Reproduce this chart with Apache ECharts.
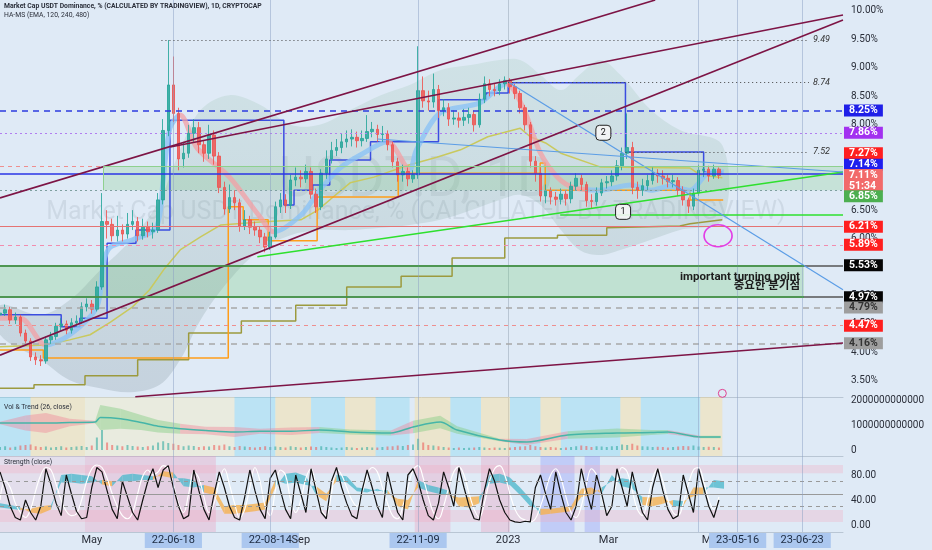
<!DOCTYPE html>
<html><head><meta charset="utf-8">
<script src="https://cdn.jsdelivr.net/npm/echarts@6/dist/echarts.min.js"></script>
<style>html,body{margin:0;padding:0;background:#dfeaf6}#c{width:932px;height:550px}</style>
</head><body><div id="c"></div>
<script>
// ---------- x positions are days relative to 2023-01-01 ----------
const t = d => d;

// ---------- DATA ----------
const candleDay0 = -299;   // 2022-03-08
const candleStep = 3;      // 3-day candles
const firstOpen = 4.66;
const closes = [
4.69,4.75,4.57,4.62,4.34,4.20,3.92,3.87,3.85,4.22,
4.28,4.46,4.50,4.39,4.52,4.55,4.80,4.85,4.76,5.15,
6.30,6.25,6.05,6.15,6.08,6.25,6.30,6.05,6.20,6.12,
6.15,6.68,7.90,8.70,8.20,7.40,7.50,7.85,7.95,7.65,
7.50,7.82,7.45,6.90,6.52,6.72,6.63,6.22,6.33,6.20,
6.15,6.03,5.85,6.03,6.56,6.68,6.58,7.03,7.08,7.05,
7.18,6.78,6.56,7.15,7.40,7.55,7.60,7.70,7.75,7.78,
7.72,7.76,7.88,7.92,7.83,7.84,7.65,7.35,7.12,7.18,
7.05,7.12,8.60,8.42,8.40,8.62,8.25,8.30,8.10,8.12,
8.08,8.13,8.18,8.00,8.45,8.72,8.62,8.60,8.72,8.78,
8.67,8.55,8.30,8.00,7.36,7.15,6.75,6.84,6.73,6.69,
6.78,6.70,6.92,7.06,6.95,6.67,6.65,6.80,6.98,7.00,
7.10,7.28,7.50,7.60,6.90,6.85,6.93,7.02,7.15,7.10,
7.06,7.00,7.02,6.85,6.68,6.57,6.80,7.20,7.22,7.10,
7.22,7.11];
const highs = [
4.78,4.84,4.80,4.70,4.66,4.40,4.25,4.00,3.95,4.28,
4.36,4.52,4.60,4.56,4.60,4.65,4.88,4.95,4.92,5.25,
6.80,6.50,6.35,6.40,6.25,6.45,6.50,6.38,6.35,6.30,
6.28,6.80,8.10,9.49,9.20,8.30,7.70,8.00,8.10,8.05,
7.72,8.00,7.90,7.52,7.00,6.95,6.85,6.70,6.50,6.40,
6.30,6.22,6.10,6.12,6.65,6.80,6.78,7.12,7.25,7.20,
7.30,7.25,6.88,7.22,7.55,7.70,7.75,7.85,7.90,7.92,
7.88,7.90,8.17,8.05,8.00,7.98,7.90,7.70,7.42,7.30,
7.25,7.20,9.38,8.85,8.60,8.90,8.70,8.45,8.38,8.25,
8.22,8.28,8.30,8.25,8.55,8.85,8.80,8.72,8.80,8.85,
8.82,8.72,8.60,8.35,8.05,7.45,7.25,6.95,6.90,6.82,
6.88,6.85,7.00,7.15,7.12,7.00,6.78,6.90,7.05,7.10,
7.20,7.38,7.60,8.20,7.70,7.00,7.05,7.12,7.25,7.22,
7.20,7.12,7.12,7.08,6.92,6.72,6.88,7.30,7.35,7.28,
7.30,7.25];
const lows = [
4.58,4.64,4.50,4.50,4.28,4.12,3.85,3.78,3.76,3.80,
4.15,4.22,4.38,4.32,4.33,4.45,4.50,4.72,4.68,4.72,
5.10,6.00,5.95,5.95,5.95,6.00,6.15,5.95,5.98,6.02,
6.00,6.10,6.60,7.80,8.05,7.20,7.25,7.42,7.70,7.50,
7.35,7.40,7.30,6.80,6.42,6.45,6.50,6.12,6.15,6.08,
6.05,5.92,5.76,5.80,6.00,6.45,6.45,6.52,6.92,6.90,
6.98,6.70,6.45,6.50,7.05,7.32,7.45,7.50,7.60,7.62,
7.60,7.62,7.70,7.78,7.70,7.70,7.55,7.25,7.00,7.00,
6.92,6.98,7.05,8.30,8.25,8.30,8.12,8.15,7.98,8.00,
7.95,7.98,8.02,7.88,7.95,8.38,8.50,8.50,8.52,8.62,
8.55,8.45,8.20,7.90,7.25,7.00,6.65,6.62,6.60,6.58,
6.60,6.58,6.62,6.85,6.85,6.56,6.52,6.58,6.75,6.88,
6.92,7.02,7.20,7.40,6.78,6.70,6.75,6.85,6.95,6.98,
6.95,6.90,6.90,6.75,6.58,6.45,6.50,6.75,7.08,7.00,
7.05,7.05];
// volume, in 10^12
const vol = [
0.12,0.15,0.10,0.13,0.18,0.20,0.22,0.15,0.12,0.14,
0.10,0.12,0.15,0.10,0.12,0.14,0.16,0.12,0.18,0.50,
0.80,0.30,0.20,0.18,0.15,0.20,0.16,0.14,0.12,0.15,
0.18,0.30,0.35,0.28,0.25,0.20,0.15,0.18,0.16,0.12,
0.15,0.14,0.20,0.18,0.22,0.15,0.12,0.16,0.14,0.12,
0.10,0.12,0.15,0.12,0.14,0.12,0.10,0.15,0.12,0.10,
0.12,0.14,0.12,0.15,0.12,0.10,0.08,0.10,0.12,0.10,
0.08,0.10,0.12,0.10,0.10,0.12,0.14,0.15,0.18,0.16,
0.20,0.22,0.45,0.30,0.20,0.18,0.15,0.12,0.10,0.08,
0.10,0.08,0.09,0.10,0.12,0.10,0.08,0.10,0.09,0.08,
0.10,0.12,0.14,0.15,0.20,0.15,0.12,0.10,0.12,0.10,
0.08,0.10,0.12,0.15,0.18,0.16,0.12,0.15,0.14,0.12,
0.15,0.16,0.22,0.20,0.25,0.18,0.15,0.14,0.12,0.13,
0.12,0.10,0.12,0.14,0.16,0.15,0.18,0.14,0.12,0.13,
0.12,0.10];
const strengthWhite = [
40,70,60,35,20,12,25,55,80,92,
88,65,40,22,15,18,40,70,90,96,
92,75,50,30,15,10,20,50,78,88,
80,85,95,90,65,35,20,50,85,75,
45,20,35,70,90,65,35,12,25,60,
92,70,30,15,55,88,80,40,20,40,
75,90,60,25,15,50,90,80,60,40,
30,50,80,92,85,60,35,15,10,30,
60,88,95,75,45,20,10,30,60,85,
93,80,50,25,12,35,70,90,95,80,
50,25,12,8,5,10,30,55,80,90,
75,45,20,12,30,65,90,80,45,20,
35,70,92,85,55,25,15,40,75,90,
70,40,20,15,35,65,88,92,70,40,
25,45];
const strengthBlack = [
85,60,30,12,8,40,20,8,30,90,
65,35,15,80,50,22,10,12,60,92,
85,55,25,10,70,45,20,8,40,70,
90,60,88,95,60,30,10,15,88,55,
25,8,50,85,60,30,12,8,45,88,
55,25,10,75,88,55,25,10,80,50,
20,90,55,20,10,70,92,60,35,15,
10,55,88,60,30,12,85,50,20,8,
80,90,70,40,15,8,35,85,60,30,
92,60,30,10,8,55,90,70,40,20,
8,5,4,6,5,60,80,50,25,85,
50,20,8,30,90,55,25,80,50,15,
30,90,60,30,85,50,20,8,60,90,
55,25,10,15,80,50,20,90,60,30,
12,40];
const bandDay0 = -299, bandStep = 6;
const bandFast = [35,32,28,20,18,25,80,82,80,78, 65,62,80,82,80,78,78,75,75,72, 52,48,18,18,20,22,25,60,82,84, 78,48,38,80,78,60,58,54,56,30, 25,72,64,60,55,30,28,35,80,82, 76,60,42,16,18,20,22,45,48,60, 70,75,72,32,30,34,40,38,46,50, 72,70];
const bandSlow = [28,26,24,26,30,32,68,68,66,68, 72,70,70,70,72,72,86,84,62,60, 64,60,30,32,32,34,36,72,66,68, 64,62,50,70,68,54,52,58,50,42, 40,60,54,50,48,44,45,46,66,68, 64,48,30,26,26,28,30,58,60,50, 80,62,58,45,44,46,30,30,60,60, 60,58];
// Vol & Trend line, in 10^12
const trendDays = [-299,-284,-272,-258,-243,-240,-228,-216,-206,-193,-178,-161,-146,-128,-111,-93,-69,-56,-40,-30,-5,11,35,64,84,94,113,125];
const trendVals = [1.08,1.08,1.08,1.10,1.12,1.30,1.25,1.10,0.95,0.85,0.78,0.72,0.75,0.75,0.80,0.72,0.68,0.92,1.12,0.80,0.40,0.32,0.60,0.68,0.70,0.72,0.52,0.52];
const trendHalf = [0.05,0.30,0.40,0.15,0.05,0.50,0.40,0.30,0.25,0.20,0.15,0.20,0.10,0.15,0.12,0.10,0.10,0.25,0.25,0.15,0.05,0.12,0.15,0.18,0.10,0.08,0.05,0.05];
const trendMood = ['p','p','p','p','g','g','g','g','g','p','p','p','p','p','g','g','p','g','g','g','p','p','g','g','g','p','g','g'];
// HA-MS cloud
const cloudDays = [-299,-275,-258,-240,-222,-205,-193,-181,-164,-146,-128,-111,-93,-75,-58,-40,-22,-5,7,19,31,42,54,66,84,101,126];
const cloudUp  = [4.83,4.66,4.92,5.45,5.98,6.68,7.56,8.26,8.52,8.35,8.00,8.00,8.26,8.52,8.70,8.96,9.05,9.14,9.14,8.88,8.61,8.88,9.14,8.88,8.26,7.91,7.64];
const cloudLow = [4.31,3.87,3.51,3.37,3.30,3.43,3.87,4.57,5.27,5.80,6.06,6.15,6.15,6.19,6.24,6.33,6.50,6.68,6.77,6.59,6.15,5.80,5.71,5.80,5.98,6.15,6.33];
// HA-MS EMA
const emaDays = [-299,-287,-272,-258,-242,-238,-234,-221,-207,-203,-199,-193,-183,-164,-146,-138,-122,-111,-99,-87,-71,-58,-54,-40,-17,-1,4,11,19,29,39,54,72,84,95,107,119,127];
const emaVals = [4.60,4.60,4.13,4.31,4.80,5.59,5.85,5.98,6.20,7.03,7.94,8.17,7.59,7.08,6.38,6.12,6.41,6.85,7.24,7.47,7.70,7.21,7.56,8.21,8.38,8.72,8.58,8.14,7.50,7.08,6.89,6.85,6.94,6.85,6.92,6.85,7.17,7.17];
const emaTurns = [-272,-193,-138,-71,-58,-1,45];
// step lines [day, value]
const blueStep = [[-299,4.66],[-263,4.66],[-263,4.45],[-252,4.45],[-252,4.60],[-236,4.60],[-236,5.92],[-219,5.92],[-219,6.15],[-199,6.15],[-199,8.08],[-132,8.08],[-132,6.59],[-126,6.59],[-126,6.85],[-115,6.85],[-115,6.94],[-105,6.94],[-105,7.38],[-81,7.38],[-81,7.70],[-41,7.70],[-41,8.44],[-13,8.44],[-13,8.56],[0,8.56],[0,8.74],[69,8.74],[69,7.52],[115,7.52],[115,7.17],[126,7.17]];
const orangeStep = [[-299,4.04],[-273.5,4.04],[-273.5,3.90],[-164.7,3.90],[-164.7,6.56],[-155.9,6.56],[-155.9,6.33],[-141.2,6.33],[-141.2,5.96],[-112.4,5.96],[-112.4,6.73],[-64.7,6.73],[-64.7,7.15],[18.8,7.15],[18.8,7.33],[21.8,7.33],[21.8,6.85],[107,6.85],[107,6.68],[126.5,6.68]];
const oliveUp = [[-299,4.10],[-272,4.13],[-258,4.22],[-246,4.31],[-234,4.53],[-221,4.80],[-211,5.10],[-202,5.48],[-193,5.80],[-181,6.03],[-169,6.24],[-146,6.29],[-122,6.33],[-112,6.50],[-103,6.73],[-93,6.98],[-79,7.08],[-59,7.29],[-42,7.43],[-28,7.56],[-12,7.79],[7,7.94],[13,7.79],[22,7.68],[31,7.50],[54,7.26],[107,7.24],[113,7.12],[126,7.07]];
const oliveLow = [[-299,3.37],[-279,3.37],[-279,3.43],[-249,3.43],[-249,3.59],[-218,3.59],[-218,3.87],[-188,3.87],[-188,4.34],[-157,4.34],[-157,4.55],[-125,4.55],[-125,4.83],[-95,4.83],[-95,5.15],[-63,5.15],[-63,5.34],[-33,5.34],[-33,5.66],[-2,5.66],[-2,6.01],[29,6.01],[29,6.06],[58,6.06],[58,6.19],[101,6.22],[107,6.26],[126,6.33]];
// drawn lines [[day,value],[day,value]]
const channelLines = [[[-299,6.714],[86.5,10.193]], [[-198.8,7.61],[197,9.93]], [[-299,3.95],[197,9.84]], [[-219.4,3.22],[197,4.165]]];
const greenLines = [[[-147.6,5.68],[197,7.17]], [[30.6,6.42],[197,6.42]]];
const blueLines = [[[0,8.75],[197,5.10]], [[-77,7.75],[197,7.17]]];
const highMarks = [[-204,9.49],[0,8.74],[69,7.52]];
const highMarkEnd = 177;
const levelValues = [8.25,7.86,7.27,7.14,7.11,6.85,6.21,5.89,5.53,4.97,4.79,4.47,4.16];
const countdown = '51:34';
const upperZone = [[-238,7.27],[197,6.85]];
const lowerZone = [[-299,5.53],[174,4.97]];
const vLineDays = [-197,-140,-53,112,135,173];
const priceTicks = [3.5,4,4.5,5,5.5,6,6.5,7,7.5,8,8.5,9,9.5,10];
const volTicks = [0,1e12,2e12];
const strengthTicks = [0,40,80];
const xTickDays = [-245,-197,-140,-122,-53,0,59,120,135,173];
const xTickText = ['May','22-06-18','22-08-14','Sep','22-11-09','2023','Mar','May','23-05-16','23-06-23'];
const xTickBoxed = [0,1,1,0,1,0,0,0,1,1];
const labelOne = [67.6,6.47], labelTwo = [56,7.86];
const circleMark = [123.5,6.05], smallMark = [126,3.28];
const noteAt = [172,5.25];
const noteText = 'important turning point\n중요한 분기점';

// ---------- derived series data ----------
const candles = closes.map((c,i)=>[t(candleDay0+candleStep*i), i===0?firstOpen:closes[i-1], c, lows[i], highs[i]]);
const isUp = i => closes[i] >= (i===0?firstOpen:closes[i-1]);
const volData = vol.map((v,i)=>({value:[t(candleDay0+candleStep*i), v*1e12], itemStyle:{color: isUp(i)?'rgba(38,166,154,0.55)':'rgba(239,83,80,0.55)'}}));
const pair = a => a.map(p=>[t(p[0]),p[1]]);
const seg = (a,b) => [{coord:[t(a[0]),a[1]]},{coord:[t(b[0]),b[1]]}];

const PINK='rgba(243,160,165,0.75)', BLUE='rgba(140,195,245,0.8)';
const emaPieces = [];
for (let k=0;k<=emaTurns.length;k++){
  const p = {color: k%2===0?PINK:BLUE};
  if (k>0) p.gte = t(emaTurns[k-1]);
  if (k<emaTurns.length) p.lt = t(emaTurns[k]);
  emaPieces.push(p);
}

const FONT = 'Roboto';
const levelStyles = [
 {line:{color:'#2c3be0',type:[6,5],width:1.5}, bg:'#1f1fe8'},
 {line:{color:'#b27df0',type:[2,3],width:1}, bg:'#a231f0'},
 {line:{color:'#ee8f8f',type:[4,4],width:1}, bg:'#ff1f1f', dy:-13},
 {line:{color:'#2a35e6',type:'solid',width:1.5}, bg:'#1f1fee', dy:-9},
 {line:{color:'rgba(0,0,0,0)',width:0}, bg:'#f26a6a', dy:5, cd:true},
 {line:{color:'#7fa0a0',type:[2,3],width:1}, bg:'#4caf50', dy:6},
 {line:{color:'#e57373',type:'solid',width:1}, bg:'#ff1f1f'},
 {line:{color:'#f28cae',type:[4,4],width:1}, bg:'#ff1f1f'},
 {line:{color:'#555',type:'solid',width:1.5}, bg:'#050505'},
 {line:{color:'#555',type:'solid',width:1.5}, bg:'#050505'},
 {line:{color:'#a8a8a8',type:[6,5],width:1.5}, bg:'#9e9e9e', fg:'#333'},
 {line:{color:'#ee8f8f',type:[4,4],width:1}, bg:'#ff1f1f'},
 {line:{color:'#a8a8a8',type:[6,5],width:1.5}, bg:'#9e9e9e', fg:'#333'}
];
const levelLines = levelValues.map((v,k)=>{
  const s = levelStyles[k];
  return {yAxis:v, lineStyle:s.line, label:{show:true, position:'end', distance:1,
    formatter: s.cd ? v.toFixed(2)+'%\n'+countdown : v.toFixed(2)+'%',
    backgroundColor:s.bg, color:s.fg||'#fff', padding:[1,5,0,5], fontSize:10.5, fontWeight:'bold',
    lineHeight:11, offset:[0,s.dy||0], fontFamily:FONT, opacity:1}};
});
const vLines = (col) => vLineDays.map(d=>({xAxis:t(d), lineStyle:{color:col,width:1,type:'solid'}, label:{show:false}}));

const maroon = {color:'#7d1445', width:1.6, type:'solid'};
const overlayLines = [];
channelLines.forEach(l=>{const s=seg(l[0],l[1]); s[0].lineStyle=maroon; overlayLines.push(s);});
greenLines.forEach(l=>{const s=seg(l[0],l[1]); s[0].lineStyle={color:'#2ee02e',width:1.6,type:'solid'}; overlayLines.push(s);});
blueLines.forEach(l=>{const s=seg(l[0],l[1]); s[0].lineStyle={color:'#5b9de6',width:1.2,type:'solid'}; overlayLines.push(s);});
highMarks.forEach(h=>{
  const s = seg(h,[highMarkEnd,h[1]]);
  s[0].lineStyle = {color:'#444', width:1, type:[1,3]};
  s[0].label = {show:true, position:'end', distance:4, formatter:h[1].toFixed(2), fontStyle:'italic', fontSize:9, color:'#333', fontFamily:FONT};
  overlayLines.push(s);
});
{
  const add = (a,b,st) => { const s = seg(a,b); s[0].lineStyle = st; overlayLines.push(s); };
  const lg = {color:'#8fd08f',width:1,type:'solid'}, dg = {color:'#43a047',width:1.5,type:'solid'};
  add([upperZone[0][0],upperZone[0][1]],[upperZone[1][0],upperZone[0][1]],lg);
  add([upperZone[0][0],upperZone[1][1]],[upperZone[0][0],upperZone[0][1]],lg);
  add([lowerZone[0][0],lowerZone[0][1]],[lowerZone[1][0],lowerZone[0][1]],dg);
  add([lowerZone[0][0],lowerZone[1][1]],[lowerZone[1][0],lowerZone[1][1]],dg);
}

const volBands = [[-299,-281,'c'],[-281,-249,'y'],[-249,-161,'y2'],[-161,-137,'c'],[-137,-116,'y'],[-116,-96,'c'],[-96,-78,'y'],[-78,-58,'c'],[-55,-34,'y'],[-34,-16,'c'],[-16,1,'y'],[1,19,'c'],[19,31,'y'],[31,66,'c'],[66,78,'y'],[78,113,'c'],[113,126,'y']];
const strBands = [[-299,-249,'p1'],[-249,-172,'p'],[-55,-34,'p'],[-16,1,'p'],[19,39,'b'],[45,54,'b']];
const bandCol = {c:'rgba(120,215,240,0.35)', y:'rgba(255,222,140,0.38)', y2:'rgba(255,235,175,0.32)', p:'rgba(235,150,185,0.32)', p1:'rgba(240,180,200,0.22)', b:'rgba(130,140,250,0.32)'};

const xBase = {type:'value', min:-299, max:197, axisTick:{show:false}, splitLine:{show:false},
  axisLine:{show:true, onZero:false, lineStyle:{color:'#b9c6d4'}}, axisLabel:{show:false}};
const yBase = {type:'value', position:'right', axisTick:{show:false}, splitLine:{show:false},
  axisLine:{show:true, lineStyle:{color:'#b9c6d4'}}};
const axisFont = {color:'#2a2e39', fontSize:10, fontFamily:FONT, margin:8};

const option = {
  animation:false,
  backgroundColor:'#dfeaf6',
  textStyle:{fontFamily:FONT},
  grid:[
    {left:0, right:89, top:0, height:397, outerBoundsMode:'none'},
    {left:0, right:89, top:397, height:59, outerBoundsMode:'none'},
    {left:0, right:89, top:456, height:76, outerBoundsMode:'none'}
  ],
  xAxis:[
    {...xBase, gridIndex:0},
    {...xBase, gridIndex:1},
    {...xBase, gridIndex:2, axisLabel:{show:true, customValues:xTickDays, margin:1, showMinLabel:true, showMaxLabel:true,
      formatter:(val)=>{ const k = xTickDays.findIndex(d=>Math.abs(d-val)<0.5); if(k<0) return ''; return xTickBoxed[k]?'{b|'+xTickText[k]+'}':'{n|'+xTickText[k]+'}'; },
      rich:{ b:{backgroundColor:'#abc7ef', color:'#1b2a40', padding:[2,7,2,7], fontSize:11, fontFamily:FONT},
             n:{color:'#2a2e39', fontSize:11, fontFamily:FONT, padding:[2,0,2,0]} }}}
  ],
  yAxis:[
    {...yBase, gridIndex:0, min:3.216, max:10.193, axisLabel:{...axisFont, customValues:priceTicks, formatter:v=>v.toFixed(2)+'%'}},
    {...yBase, gridIndex:1, min:-0.24e12, max:2.12e12, axisLabel:{...axisFont, customValues:volTicks, formatter:v=>String(Math.round(v))}},
    {...yBase, gridIndex:2, min:-11.2, max:110.4, axisLabel:{...axisFont, customValues:strengthTicks, formatter:v=>v.toFixed(2)}}
  ],
  visualMap:[{type:'piecewise', show:false, dimension:0, seriesIndex:6, pieces:emaPieces}],
  graphic:[
    {type:'text', z:0, x:416, y:182, style:{text:'USDT.D, 1D', font:'56px Roboto', fill:'rgba(110,120,135,0.13)', textAlign:'center', textVerticalAlign:'middle'}},
    {type:'text', z:0, x:416, y:213, style:{text:'Market Cap USDT Dominance, % (CALCULATED BY TRADINGVIEW)', font:'25px Roboto', fill:'rgba(110,120,135,0.15)', textAlign:'center', textVerticalAlign:'middle'}},
    {type:'text', z:100, x:4, y:3, style:{text:'Market Cap USDT Dominance, % (CALCULATED BY TRADINGVIEW), 1D, CRYPTOCAP', font:'bold 6.8px Roboto', fill:'#2a2e39'}},
    {type:'text', z:100, x:4, y:12, style:{text:'HA-MS (EMA, 120, 240, 480)', font:'6.8px Roboto', fill:'#2a2e39'}},
    {type:'text', z:100, x:4, y:404, style:{text:'Vol & Trend (26, close)', font:'6.8px Roboto', fill:'#2a2e39'}},
    {type:'text', z:100, x:4, y:459, style:{text:'Strength (close)', font:'6.8px Roboto', fill:'#2a2e39'}}
  ],
  series:[
    {type:'custom', xAxisIndex:0, yAxisIndex:0, z:1, silent:true, data:[[0,6]],
      renderItem:(params,api)=>{
        const up = cloudDays.map((d,i)=>api.coord([t(d),cloudUp[i]]));
        const lo = cloudDays.map((d,i)=>api.coord([t(d),cloudLow[i]])).reverse();
        return {type:'polygon', shape:{points:up.concat(lo), smooth:0.35},
          style:{fill: new echarts.graphic.LinearGradient(0,0,0,1,[{offset:0,color:'rgba(130,185,150,0.17)'},{offset:1,color:'rgba(95,115,125,0.2)'}])}};
      }},
    {type:'line', xAxisIndex:0, yAxisIndex:0, z:2, data:[], silent:true,
      markArea:{silent:true, data:[
        [{coord:[t(upperZone[0][0]),upperZone[0][1]], itemStyle:{color:'rgba(110,200,110,0.22)'}},{coord:[t(upperZone[1][0]),upperZone[1][1]]}],
        [{coord:[t(lowerZone[0][0]),lowerZone[0][1]], itemStyle:{color:'rgba(110,200,120,0.28)'}},{coord:[t(lowerZone[1][0]),lowerZone[1][1]]}]
      ]},
      markLine:{silent:true, symbol:['none','none'], data: levelLines.concat(vLines('rgba(140,160,195,0.5)'))}},
    {type:'line', xAxisIndex:0, yAxisIndex:0, z:3, data:pair(oliveUp), showSymbol:false, lineStyle:{color:'#c9c95e', width:1.5}},
    {type:'line', xAxisIndex:0, yAxisIndex:0, z:3, data:pair(oliveLow), showSymbol:false, lineStyle:{color:'#9c9a3e', width:1.5}},
    {type:'line', xAxisIndex:0, yAxisIndex:0, z:3, data:pair(orangeStep), showSymbol:false, lineStyle:{color:'#ff9d1a', width:1.5}},
    {type:'line', xAxisIndex:0, yAxisIndex:0, z:3, data:pair(blueStep), showSymbol:false, lineStyle:{color:'#3b4de0', width:1.5}},
    {type:'line', xAxisIndex:0, yAxisIndex:0, z:3, data:pair(emaDays.map((d,i)=>[d,emaVals[i]])), showSymbol:false, smooth:0.3, lineStyle:{width:5}},
    {type:'candlestick', xAxisIndex:0, yAxisIndex:0, z:4, data:candles, barWidth:3,
      itemStyle:{color:'#26a69a', color0:'#ef5350', borderColor:'#26a69a', borderColor0:'#ef5350', borderWidth:1, opacity:0.85}},
    {type:'line', xAxisIndex:0, yAxisIndex:0, z:6, data:[], silent:true,
      markLine:{silent:true, symbol:['none','none'], label:{show:false}, data:overlayLines},
      markPoint:{silent:true, data:[
        {coord:[t(labelTwo[0]),labelTwo[1]], symbol:'roundRect', symbolSize:[15,15], itemStyle:{color:'rgba(245,245,245,0.9)', borderColor:'#222', borderWidth:1}, label:{show:true, position:'inside', formatter:'2', color:'#111', fontSize:9}},
        {coord:[t(labelOne[0]),labelOne[1]], symbol:'roundRect', symbolSize:[15,15], itemStyle:{color:'rgba(245,245,245,0.9)', borderColor:'#222', borderWidth:1}, label:{show:true, position:'inside', formatter:'1', color:'#111', fontSize:9}},
        {coord:[t(circleMark[0]),circleMark[1]], symbol:'circle', symbolSize:[28,22], itemStyle:{color:'rgba(0,0,0,0)', borderColor:'#e23ee6', borderWidth:1.5}, label:{show:false}},
        {coord:[t(smallMark[0]),smallMark[1]], symbol:'circle', symbolSize:8, itemStyle:{color:'rgba(0,0,0,0)', borderColor:'#e04090', borderWidth:1}, label:{show:false}},
        {coord:[t(noteAt[0]),noteAt[1]], symbol:'rect', symbolSize:1, itemStyle:{color:'rgba(0,0,0,0)'},
          label:{show:true, position:'left', distance:0, formatter:noteText, align:'right', fontSize:11.5, fontWeight:'bold', lineHeight:9, color:'#1d1d1d', fontFamily:'Roboto, Noto Sans CJK KR'}}
      ]}},
    {type:'line', xAxisIndex:1, yAxisIndex:1, z:1, data:[], silent:true,
      markArea:{silent:true, data: volBands.map(b=>[{xAxis:t(b[0]), itemStyle:{color:bandCol[b[2]]}},{xAxis:t(b[1])}])},
      markLine:{silent:true, symbol:['none','none'], data:vLines('rgba(140,160,195,0.5)')}},
    {type:'custom', xAxisIndex:1, yAxisIndex:1, z:2, silent:true,
      data: trendDays.slice(0,-1).map((d,j)=>[t(d), trendVals[j]*1e12, j]),
      renderItem:(params,api)=>{
        const j = api.value(2);
        const a = t(trendDays[j]), b = t(trendDays[j+1]);
        const pts = [api.coord([a,(trendVals[j]+trendHalf[j])*1e12]), api.coord([b,(trendVals[j+1]+trendHalf[j+1])*1e12]),
                     api.coord([b,(trendVals[j+1]-trendHalf[j+1])*1e12]), api.coord([a,(trendVals[j]-trendHalf[j])*1e12])];
        return {type:'polygon', shape:{points:pts}, style:{fill: trendMood[j]==='p'?'rgba(240,130,150,0.42)':'rgba(130,205,130,0.45)'}};
      }},
    {type:'line', xAxisIndex:1, yAxisIndex:1, z:3, data: trendDays.map((d,i)=>[t(d),trendVals[i]*1e12]), showSymbol:false, smooth:0.3, lineStyle:{color:'#45b5a8', width:1.5}},
    {type:'bar', xAxisIndex:1, yAxisIndex:1, z:3, data:volData, barWidth:2},
    {type:'line', xAxisIndex:2, yAxisIndex:2, z:1, data:[], silent:true,
      markArea:{silent:true, data: strBands.map(b=>[{xAxis:t(b[0]), itemStyle:{color:bandCol[b[2]]}},{xAxis:t(b[1])}]).concat([
        [{yAxis:83, itemStyle:{color:'rgba(245,170,190,0.3)'}},{yAxis:96}],
        [{yAxis:5, itemStyle:{color:'rgba(245,170,190,0.3)'}},{yAxis:24}]])},
      markLine:{silent:true, symbol:['none','none'], label:{show:false}, data:[
        {yAxis:70, lineStyle:{color:'#999', type:[4,4], width:1}},
        {yAxis:50, lineStyle:{color:'#999', type:'solid', width:1}},
        {yAxis:30, lineStyle:{color:'#999', type:[4,4], width:1}}
      ].concat(vLines('rgba(140,160,195,0.5)'))}},
    {type:'custom', xAxisIndex:2, yAxisIndex:2, z:2, silent:true,
      data: bandFast.slice(0,-1).map((v,j)=>[t(bandDay0+bandStep*j), v, j]),
      renderItem:(params,api)=>{
        const j = api.value(2);
        const a = t(bandDay0+bandStep*j), b = t(bandDay0+bandStep*(j+1));
        const pts = [api.coord([a,bandFast[j]]), api.coord([b,bandFast[j+1]]), api.coord([b,bandSlow[j+1]]), api.coord([a,bandSlow[j]])];
        const up = (bandFast[j]+bandFast[j+1]) >= (bandSlow[j]+bandSlow[j+1]);
        return {type:'polygon', shape:{points:pts}, style:{fill: up?'rgba(80,185,205,0.8)':'rgba(245,178,80,0.8)'}};
      }},
    {type:'line', xAxisIndex:2, yAxisIndex:2, z:3, data: strengthWhite.map((v,i)=>[t(candleDay0+candleStep*i),v]), showSymbol:false, smooth:0.4, lineStyle:{color:'#ffffff', width:1.2}},
    {type:'line', xAxisIndex:2, yAxisIndex:2, z:4, data: strengthBlack.map((v,i)=>[t(candleDay0+candleStep*i),v]), showSymbol:false, lineStyle:{color:'#111', width:1.2}}
  ]
};
const chart = echarts.init(document.getElementById('c'));
chart.setOption(option);
</script>
</body></html>
